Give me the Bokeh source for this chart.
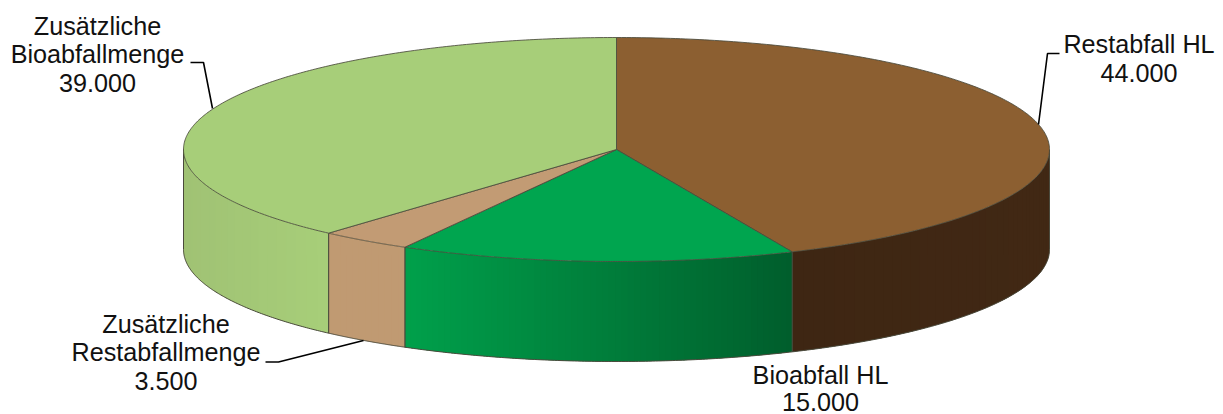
import numpy as np
from bokeh.plotting import figure
from bokeh.embed import file_html
from bokeh.resources import INLINE
from bokeh.core.properties import value

# --- data ---
categories = ["Restabfall HL", "Bioabfall HL", "Zusätzliche Restabfallmenge", "Zusätzliche Bioabfallmenge"]
amounts = [44000, 15000, 3500, 39000]

# --- style ---
top_colors = ["#8C5F31", "#00A54F", "#C29B74", "#A7CE79"]
side_from = ["#3E2613", "#00A04B", "#C09A72", "#A0C274"]   # colour at slice's left end
side_to = ["#412814", "#005E2C", "#C09A72", "#A7CE79"]     # colour at slice's right end
EDGE = "#4A4A3C"
TEXT = "#111111"
FONT = value("Liberation Sans")
FS = "25.2px"

W, H = 1223, 414
CX, CY, RX, RY, DEPTH = 616.0, 149.0, 433.0, 112.0, 100.0

p = figure(width=W, height=H, x_range=(0, W), y_range=(H, 0),
           toolbar_location=None, output_backend="svg", min_border=0)
p.axis.visible = False
p.grid.visible = False
p.outline_line_color = None
p.background_fill_color = "#ffffff"
p.border_fill_color = "#ffffff"


def ex(t):
    return CX + RX * np.sin(t)


def ey(t, d=0.0):
    return CY - RY * np.cos(t) + d


def hex2rgb(h):
    return np.array([int(h[i:i + 2], 16) for i in (1, 3, 5)], float)


def rgb2hex(c):
    return "#%02x%02x%02x" % tuple(int(round(v)) for v in c)


total = sum(amounts)
edges = np.radians(np.cumsum([0] + amounts) / total * 360.0)
slices = list(zip(edges[:-1], edges[1:]))

# side wall: only the front half (90..270 degrees) is visible
for i, (a, b) in enumerate(slices):
    lo, hi = max(a, np.pi / 2), min(b, 3 * np.pi / 2)
    if hi <= lo:
        continue
    n = max(2, int(abs(ex(hi) - ex(lo)) / 6))
    ts = np.linspace(lo, hi, n + 1)
    xs_all, ys_all, cols = [], [], []
    xl, xr = min(ex(lo), ex(hi)), max(ex(lo), ex(hi))
    c0, c1 = hex2rgb(side_from[i]), hex2rgb(side_to[i])
    for k in range(n):
        t0, t1 = ts[k], ts[k + 1]
        t2 = ts[min(k + 2, n)]          # overlap the next strip so no seams show
        xm = (ex(t0) + ex(t1)) / 2
        f = (xm - xl) / max(xr - xl, 1)
        cols.append(rgb2hex(c0 + (c1 - c0) * f))
        tt = np.array([t0, t1, t2])
        xs_all.append(list(ex(tt)) + list(ex(tt[::-1])))
        ys_all.append(list(ey(tt)) + list(ey(tt[::-1], DEPTH)))
    p.patches(xs_all, ys_all, fill_color=cols, line_color=None)
    # wall outline
    arc = np.linspace(lo, hi, 120)
    p.line(ex(arc), ey(arc, DEPTH), line_color=EDGE, line_width=1.0)
    for t in (lo, hi):
        p.line([ex(t), ex(t)], [ey(t), ey(t, DEPTH)], line_color=EDGE, line_width=1.0)

# top face
for i, (a, b) in enumerate(slices):
    arc = np.linspace(a, b, 240)
    xs = np.concatenate([[CX], ex(arc)])
    ys = np.concatenate([[CY], ey(arc)])
    p.patch(xs, ys, fill_color=top_colors[i], line_color=EDGE, line_width=1.0, line_alpha=0.85)

# leader lines
leaders = [
    ([1059, 1047, 1038], [53, 53, 124]),
    ([265, 278, 363], [361.5, 361.5, 340]),
    ([190, 203, 212], [62, 62, 108]),
]
for lx, ly in leaders:
    p.line(lx, ly, line_color="#000000", line_width=1.6)


def fmt(v):
    return f"{v:,}".replace(",", ".")


# labels
label_lines = [
    (["Restabfall HL", fmt(amounts[0])], 1138.5, [43, 72]),
    (["Bioabfall HL", fmt(amounts[1])], 820, [374, 401]),
    (["Zusätzliche", "Restabfallmenge", fmt(amounts[2])], 165.5, [323, 351.5, 380]),
    (["Zusätzliche", "Bioabfallmenge", fmt(amounts[3])], 97, [25, 53.5, 82]),
]
for lines, x, ys in label_lines:
    p.text([x] * len(lines), ys, text=lines, text_align="center", text_baseline="middle",
           text_font=FONT, text_font_size=FS, text_color=TEXT)

open("out.html", "w").write(file_html(p, INLINE))
